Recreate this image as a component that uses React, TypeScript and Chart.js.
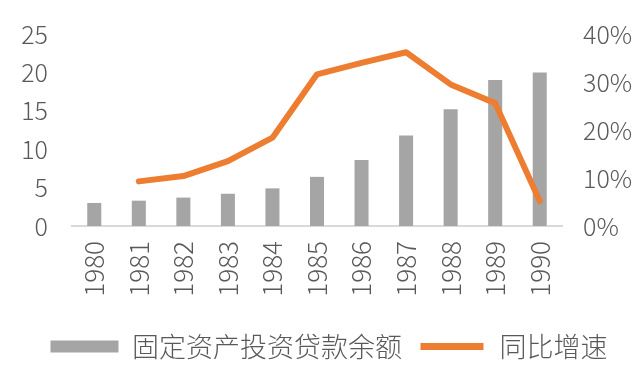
import React, { useEffect, useRef } from "react";
import { Chart, registerables } from "chart.js";

Chart.register(...registerables);

const years = ["1980", "1981", "1982", "1983", "1984", "1985", "1986", "1987", "1988", "1989", "1990"];
const loanBalance = [3.0, 3.3, 3.7, 4.2, 4.9, 6.4, 8.6, 11.8, 15.2, 19.0, 20.0];
const yoyGrowth = [null, 9.3, 10.4, 13.5, 18.4, 31.6, 34.0, 36.2, 29.5, 25.6, 5.2];
const barLabel = "固定资产投资贷款余额";
const lineLabel = "同比增速";

const FONT = '"Noto Sans CJK SC", "Noto Sans", sans-serif';
const TEXT = "#595959";
const GRAY = "#A5A5A5";
const ORANGE = "#ED7D31";

export default function App() {
  const ref = useRef<HTMLCanvasElement | null>(null);

  useEffect(() => {
    if (!ref.current) return;
    const chart = new Chart(ref.current, {
      type: "bar",
      data: {
        labels: years,
        datasets: [
          {
            type: "bar",
            label: barLabel,
            data: loanBalance,
            backgroundColor: GRAY,
            borderWidth: 0,
            yAxisID: "y",
            order: 1,
            barPercentage: 1,
            categoryPercentage: 0.315,
          },
          {
            type: "line",
            label: lineLabel,
            data: yoyGrowth as any,
            borderColor: ORANGE,
            backgroundColor: ORANGE,
            borderWidth: 6,
            borderCapStyle: "round",
            borderJoinStyle: "round",
            pointRadius: 0,
            tension: 0,
            yAxisID: "y1",
            order: 0,
          },
        ],
      },
      options: {
        responsive: false,
        animation: false,
        layout: { padding: { top: 34, bottom: 19, left: 18, right: 0 } },
        plugins: {
          tooltip: { enabled: false },
          legend: {
            position: "bottom",
            labels: {
              color: TEXT,
              font: { family: FONT, size: 27, weight: 300 as any },
              boxWidth: 68,
              boxHeight: 12,
              padding: 16,
              sort: (a: any, b: any) => a.datasetIndex - b.datasetIndex,
              generateLabels: (chart: any) => {
                const items = Chart.defaults.plugins.legend.labels.generateLabels(chart);
                return items.map((it: any) => {
                  if (it.datasetIndex === 1) {
                    return { ...it, fillStyle: ORANGE, strokeStyle: "#ffffff", lineWidth: 5, lineCap: "butt", lineDash: [] };
                  }
                  return { ...it, lineWidth: 0 };
                });
              },
            },
          },
        },
        scales: {
          x: {
            grid: { display: false, drawTicks: false },
            border: { display: true, color: "#D9D9D9", width: 2 },
            ticks: {
              color: TEXT,
              font: { family: FONT, size: 26, weight: 300 as any },
              minRotation: 90,
              maxRotation: 90,
              padding: 15,
            },
            afterFit: (s: any) => {
              s.height = 91;
            },
          },
          y: {
            position: "left",
            min: 0,
            max: 25,
            grid: { display: false, drawTicks: false },
            border: { display: false },
            ticks: {
              stepSize: 5,
              color: TEXT,
              font: { family: FONT, size: 25, weight: 300 as any },
              padding: 24,
            },
            afterFit: (s: any) => {
              s.width = 54;
              s.paddingTop = 0;
              s.paddingBottom = 0;
            },
          },
          y1: {
            position: "right",
            min: 0,
            max: 40,
            grid: { display: false, drawTicks: false },
            border: { display: false },
            ticks: {
              stepSize: 10,
              color: TEXT,
              font: { family: FONT, size: 25, weight: 300 as any },
              padding: 21,
              callback: (v: any) => v + "%",
            },
            afterFit: (s: any) => {
              s.width = 78;
              s.paddingTop = 0;
              s.paddingBottom = 0;
            },
          },
        },
      },
    });
    return () => chart.destroy();
  }, []);

  return (
    <div style={{ position: "fixed", left: 0, top: 0, width: 640, height: 389, background: "#fff" }}>
      <canvas ref={ref} width={640} height={389} />
    </div>
  );
}
